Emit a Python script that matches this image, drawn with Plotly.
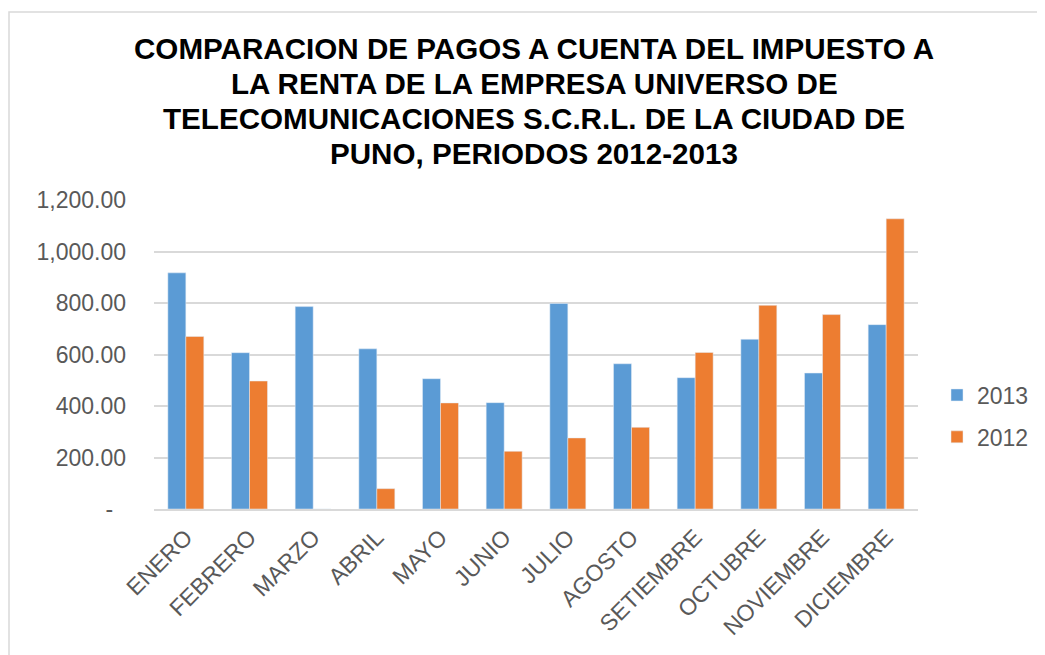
import plotly.graph_objects as go

months = ["ENERO", "FEBRERO", "MARZO", "ABRIL", "MAYO", "JUNIO", "JULIO",
          "AGOSTO", "SETIEMBRE", "OCTUBRE", "NOVIEMBRE", "DICIEMBRE"]
pagos_2013 = [917, 607, 786, 622, 506, 413, 798, 564, 510, 659, 528, 716]
pagos_2012 = [670, 497, 0, 79, 412, 224, 276, 317, 608, 791, 755, 1127]

y_tickvals = [0, 200, 400, 600, 800, 1000, 1200]
y_ticktext = ["-&nbsp;&nbsp;", "200.00", "400.00", "600.00", "800.00", "1,000.00", "1,200.00"]

title_lines = [
    "COMPARACION DE PAGOS A CUENTA DEL IMPUESTO A",
    "LA RENTA DE LA EMPRESA UNIVERSO DE",
    "TELECOMUNICACIONES S.C.R.L. DE LA CIUDAD DE",
    "PUNO, PERIODOS 2012-2013",
]

W, H = 1045, 655
OFF = 8  # page body margin
# target screen positions of plot area
PL, PR, PT, PB = 154, 918, 200, 509
L = PL - OFF
T = PT - OFF
R = W - (PR - OFF)
B = H - (PB - OFF)
pw, ph = PR - PL, PB - PT

def px_x(p):
    return (p - PL) / pw

def px_y(p):
    return (PB - p) / ph

FONT = "Liberation Sans, Arial, sans-serif"
GRAY = "#595959"

fig = go.Figure()
fig.add_trace(go.Bar(name="2013", x=months, y=pagos_2013, marker_color="#5B9BD5",
                     legendgroup="a"))
fig.add_trace(go.Bar(name="2012", x=months, y=pagos_2012, marker_color="#ED7D31",
                     legendgroup="b"))

annotations = []
line_centers = [48.5, 83.5, 118.5, 153.5]
for txt, yc in zip(title_lines, line_centers):
    annotations.append(dict(text="<b>" + txt + "</b>", xref="paper", yref="paper",
                            x=px_x(534), y=px_y(yc), xanchor="center", yanchor="middle",
                            showarrow=False, font=dict(family=FONT, size=29.6, color="#000000")))

fig.update_layout(
    width=W, height=H,
    margin=dict(l=L, r=R, t=T, b=B, autoexpand=False),
    paper_bgcolor="white", plot_bgcolor="white",
    barmode="group", bargap=0.435, bargroupgap=0,
    font=dict(family=FONT, size=23, color=GRAY),
    annotations=annotations,
    legend=dict(x=px_x(937), y=px_y(416), xanchor="left", yanchor="middle",
                traceorder="grouped", tracegroupgap=9,
                font=dict(family=FONT, size=23, color=GRAY),
                bgcolor="rgba(0,0,0,0)"),
    shapes=[dict(type="rect", xref="paper", yref="paper",
                 x0=px_x(9), x1=px_x(1090), y0=px_y(720), y1=px_y(12),
                 line=dict(color="#d9d9d9", width=1.5), fillcolor="rgba(0,0,0,0)",
                 layer="below")],
)
fig.update_xaxes(showgrid=False, showline=True, linecolor="#d9d9d9", linewidth=1.5,
                 tickangle=-45, ticks="", ticklabelstandoff=4,
                 tickfont=dict(family=FONT, size=23, color=GRAY))
fig.update_yaxes(range=[0, 1200], tickvals=y_tickvals, ticktext=y_ticktext,
                 showgrid=True, gridcolor="#d9d9d9", gridwidth=1.5, zeroline=False,
                 showline=False, ticks="", ticklabelstandoff=27,
                 tickfont=dict(family=FONT, size=23, color=GRAY))

fig.write_html("out.html")
